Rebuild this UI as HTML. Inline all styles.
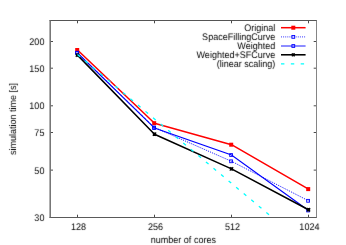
<!DOCTYPE html><html><head><meta charset="utf-8"><style>html,body{margin:0;padding:0;background:#fff}svg{display:block;will-change:transform}text{font-family:"Liberation Sans",sans-serif;font-size:9.6px;fill:#000;text-rendering:geometricPrecision}</style></head><body>
<svg width="346" height="245" viewBox="0 0 346 245">
<rect width="346" height="245" fill="#fff"/>
<filter id="b" x="0" y="0" width="346" height="245" filterUnits="userSpaceOnUse" color-interpolation-filters="sRGB"><feConvolveMatrix order="3" kernelMatrix="0.00524 0.06192 0.00524 0.06192 0.73137 0.06192 0.00524 0.06192 0.00524" edgeMode="duplicate" preserveAlpha="false"/></filter>
<g filter="url(#b)">
<g>
<text transform="translate(44.40,44.90) scale(0.94,1)" text-anchor="end">200</text>
<text transform="translate(44.40,71.59) scale(0.94,1)" text-anchor="end">150</text>
<text transform="translate(44.40,109.21) scale(0.94,1)" text-anchor="end">100</text>
<text transform="translate(44.40,135.90) scale(0.94,1)" text-anchor="end">75</text>
<text transform="translate(44.40,173.51) scale(0.94,1)" text-anchor="end">50</text>
<text transform="translate(44.40,220.90) scale(0.94,1)" text-anchor="end">30</text>
<text transform="translate(78.40,230.00) scale(0.94,1)" text-anchor="middle">128</text>
<text transform="translate(155.40,230.00) scale(0.94,1)" text-anchor="middle">256</text>
<text transform="translate(232.40,230.00) scale(0.94,1)" text-anchor="middle">512</text>
<text transform="translate(309.40,230.00) scale(0.94,1)" text-anchor="middle">1024</text>
<text transform="translate(183.35,243.00) scale(0.94,1)" text-anchor="middle">number of cores</text>
<text transform="translate(16.00,119.00) rotate(-90) scale(0.94,1)" text-anchor="middle">simulation time [s]</text>
</g>
<clipPath id="c"><rect x="50.2" y="20.5" width="266.3" height="197.0"/></clipPath>
</g>
<g clip-path="url(#c)">
<polyline points="77.50,50.00 154.50,123.20 231.50,144.70 308.50,189.10" fill="none" stroke="#ff0000" stroke-width="1.5" stroke-linejoin="round"/>
<rect x="75.20" y="48.00" width="4.0" height="4.0" fill="#ff0000"/>
<rect x="152.20" y="121.20" width="4.0" height="4.0" fill="#ff0000"/>
<rect x="229.20" y="142.70" width="4.0" height="4.0" fill="#ff0000"/>
<rect x="306.20" y="187.10" width="4.0" height="4.0" fill="#ff0000"/>
<polyline points="77.50,52.70 154.50,127.50 231.50,161.30 308.50,200.80" fill="none" stroke="#0000ff" stroke-width="0.95" stroke-dasharray="1 1.1"/>
<rect x="75.70" y="51.30" width="2.8" height="2.8" fill="none" stroke="#0000ff" stroke-width="0.9"/>
<rect x="152.70" y="126.10" width="2.8" height="2.8" fill="none" stroke="#0000ff" stroke-width="0.9"/>
<rect x="229.70" y="159.90" width="2.8" height="2.8" fill="none" stroke="#0000ff" stroke-width="0.9"/>
<rect x="306.70" y="199.40" width="2.8" height="2.8" fill="none" stroke="#0000ff" stroke-width="0.9"/>
<polyline points="77.50,53.00 154.50,128.10 231.50,155.00 308.50,210.50" fill="none" stroke="#0000ff" stroke-width="1.15"/>
<rect x="75.70" y="51.60" width="2.8" height="2.8" fill="none" stroke="#0000ff" stroke-width="0.9"/>
<rect x="152.70" y="126.70" width="2.8" height="2.8" fill="none" stroke="#0000ff" stroke-width="0.9"/>
<rect x="229.70" y="153.60" width="2.8" height="2.8" fill="none" stroke="#0000ff" stroke-width="0.9"/>
<rect x="306.70" y="209.10" width="2.8" height="2.8" fill="none" stroke="#0000ff" stroke-width="0.9"/>
<polyline points="77.50,55.10 154.50,134.20 231.50,168.90 308.50,209.70" fill="none" stroke="#000" stroke-width="1.55" stroke-linejoin="round"/>
<path d="M75.80 53.40l3.4 3.4M75.80 56.80l3.4 -3.4M75.80 55.10h3.4M77.50 53.40v3.4" stroke="#000" stroke-width="1.1" fill="none"/>
<path d="M152.80 132.50l3.4 3.4M152.80 135.90l3.4 -3.4M152.80 134.20h3.4M154.50 132.50v3.4" stroke="#000" stroke-width="1.1" fill="none"/>
<path d="M229.80 167.20l3.4 3.4M229.80 170.60l3.4 -3.4M229.80 168.90h3.4M231.50 167.20v3.4" stroke="#000" stroke-width="1.1" fill="none"/>
<path d="M306.80 208.00l3.4 3.4M306.80 211.40l3.4 -3.4M306.80 209.70h3.4M308.50 208.00v3.4" stroke="#000" stroke-width="1.1" fill="none"/>
<line x1="77.50" y1="54.50" x2="272.38" y2="217.5" stroke="#00ffff" stroke-width="1.3" stroke-dasharray="3.4 6.45"/>
</g>
<g filter="url(#b)">
<g>
<text transform="translate(275.30,31.10) scale(0.94,1)" text-anchor="end">Original</text>
<text transform="translate(275.30,40.30) scale(0.94,1)" text-anchor="end">SpaceFillingCurve</text>
<text transform="translate(275.30,49.40) scale(0.94,1)" text-anchor="end">Weighted</text>
<text transform="translate(275.30,58.20) scale(0.94,1)" text-anchor="end">Weighted+SFCurve</text>
<text transform="translate(275.30,67.20) scale(0.94,1)" text-anchor="end">(linear scaling)</text>
</g>
</g>
<line x1="281" y1="27.7" x2="305.6" y2="27.7" stroke="#ff0000" stroke-width="1.5"/><rect x="291.30" y="25.70" width="4.0" height="4.0" fill="#ff0000"/>
<line x1="281" y1="36.9" x2="305.6" y2="36.9" stroke="#0000ff" stroke-width="0.8" stroke-dasharray="1 1.1"/><rect x="291.90" y="35.50" width="2.8" height="2.8" fill="none" stroke="#0000ff" stroke-width="0.9"/>
<line x1="281" y1="46.0" x2="305.6" y2="46.0" stroke="#0000ff" stroke-width="0.9"/><rect x="291.90" y="44.60" width="2.8" height="2.8" fill="none" stroke="#0000ff" stroke-width="0.9"/>
<line x1="281" y1="54.8" x2="305.6" y2="54.8" stroke="#000" stroke-width="1.55"/><path d="M291.85 53.35l2.9 2.9M291.85 56.25l2.9 -2.9M291.85 54.80h2.9M293.30 53.35v2.9" stroke="#000" stroke-width="1.1" fill="none"/>
<line x1="281" y1="63.8" x2="305.6" y2="63.8" stroke="#00ffff" stroke-width="1.3" stroke-dasharray="3.4 6.45"/>
<path d="M50.2 41.50h2.8M316.5 41.50h-2.8M50.2 68.19h2.8M316.5 68.19h-2.8M50.2 105.81h2.8M316.5 105.81h-2.8M50.2 132.50h2.8M316.5 132.50h-2.8M50.2 170.11h2.8M316.5 170.11h-2.8M50.2 217.50h2.8M316.5 217.50h-2.8M77.50 217.5v-2.8M77.50 20.5v2.8M154.50 217.5v-2.8M154.50 20.5v2.8M231.50 217.5v-2.8M231.50 20.5v2.8M308.50 217.5v-2.8M308.50 20.5v2.8" stroke="#4a4a4a" stroke-width="1" fill="none"/>
<line x1="49.4" y1="20.5" x2="317" y2="20.5" stroke="#555" stroke-width="1"/>
<line x1="49.4" y1="217.5" x2="317" y2="217.5" stroke="#5a5a5a" stroke-width="1"/>
<line x1="316.5" y1="20.5" x2="316.5" y2="217.5" stroke="#858585" stroke-width="1"/>
<line x1="50.2" y1="20.5" x2="50.2" y2="217.5" stroke="#707070" stroke-width="1.5"/>
</svg></body></html>
